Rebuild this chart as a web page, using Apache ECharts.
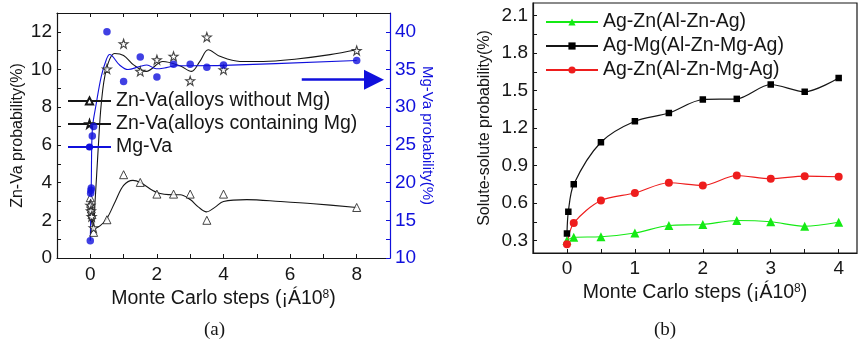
<!DOCTYPE html>
<html><head><meta charset="utf-8">
<script src="https://cdn.jsdelivr.net/npm/echarts@6/dist/echarts.min.js"></script>
<style>html,body{margin:0;padding:0;background:#fff}#c{width:861px;height:340px}</style>
</head><body><div id="c"></div>
<script>
// ---------- Chart (a) data ----------
const aXLabels = [0, 2, 4, 6, 8];
const aXTicks = [0, 1, 2, 3, 4, 5, 6, 7, 8];
const aYLabels = [0, 2, 4, 6, 8, 10, 12];
const aYTicks = [0, 1, 2, 3, 4, 5, 6, 7, 8, 9, 10, 11, 12];
const aY2Labels = [10, 15, 20, 25, 30, 35, 40];
const aY2Ticks = [10, 12.5, 15, 17.5, 20, 22.5, 25, 27.5, 30, 32.5, 35, 37.5, 40];
const aNames = ['Zn-Va(alloys without Mg)', 'Zn-Va(alloys containing Mg)', 'Mg-Va'];
// markers [steps, value]
const triPts = [[0,3.2],[0.01,2.9],[0.03,2.6],[0.05,2.3],[0.1,1.36],[0.5,2.03],[1,4.42],[1.5,4.01],[2,3.39],[2.5,3.39],[3,3.39],[3.5,2.0],[4,3.39],[8,2.68]];
const starPts = [[0,2.8],[0.02,2.5],[0.04,2.2],[0.1,1.6],[0.5,10.03],[1,11.37],[1.5,9.9],[2,10.52],[2.5,10.7],[3,9.4],[3.5,11.72],[4,9.99],[8,11.01]];
const mgPts = [[0,12.3],[0.01,18.6],[0.02,19.0],[0.03,19.3],[0.06,26.2],[0.1,27.45],[0.5,40.0],[1,33.4],[1.5,36.65],[2,34.0],[2.5,35.7],[3,35.7],[3.5,35.3],[4,35.6],[8,36.2]];
// fitted curves
const triFit = [[0,3.0],[0.06,2.0],[0.15,1.6],[0.3,1.72],[0.5,2.1],[0.75,3.0],[1.0,3.85],[1.28,4.12],[1.5,4.01],[2.0,3.48],[2.5,3.36],[2.7,3.36],[3.0,3.1],[3.25,2.7],[3.49,2.45],[3.75,2.7],[4.0,3.0],[4.7,3.1],[5.7,3.0],[6.7,2.88],[8.0,2.68]];
const starFit = [[0,2.3],[0.08,1.6],[0.15,3.2],[0.23,5.6],[0.33,8.2],[0.48,10.0],[0.73,10.85],[1.0,10.75],[1.3,10.25],[1.68,9.9],[2.18,10.43],[2.69,10.2],[3.04,9.9],[3.29,10.43],[3.54,11.05],[3.89,10.7],[4.49,10.43],[5.19,10.43],[6.2,10.56],[7.2,10.79],[8.0,11.05]];
const mgFit = [[0,12.3],[0.03,20.0],[0.06,27.0],[0.18,30.5],[0.33,34.1],[0.48,36.3],[0.58,37.0],[0.88,35.6],[1.13,35.0],[1.48,35.4],[1.7,35.6],[1.98,35.1],[2.28,35.25],[2.58,35.5],[3.0,35.5],[4.0,35.55],[8.0,36.2]];
const arrowLine = [[6.35, 33.65], [8.52, 33.65]];

// ---------- Chart (b) data ----------
const bXLabels = [0, 1, 2, 3, 4];
const bXTicks = [0, 0.5, 1, 1.5, 2, 2.5, 3, 3.5, 4];
const bYLabels = [0.3, 0.6, 0.9, 1.2, 1.5, 1.8, 2.1];
const bYTicks = [0.3, 0.45, 0.6, 0.75, 0.9, 1.05, 1.2, 1.35, 1.5, 1.65, 1.8, 1.95, 2.1];
const bNames = ['Ag-Zn(Al-Zn-Ag)', 'Ag-Mg(Al-Zn-Mg-Ag)', 'Ag-Zn(Al-Zn-Mg-Ag)'];
const agZnPts = [[0,0.30],[0.1,0.326],[0.5,0.33],[1,0.36],[1.5,0.42],[2,0.428],[2.5,0.46],[3,0.45],[3.5,0.414],[4,0.446]];
const agMgPts = [[0,0.356],[0.02,0.53],[0.1,0.75],[0.5,1.086],[1,1.254],[1.5,1.32],[2,1.428],[2.5,1.433],[3,1.548],[3.5,1.49],[4,1.6]];
const agZnMgPts = [[0,0.27],[0.1,0.44],[0.5,0.62],[1,0.68],[1.5,0.762],[2,0.74],[2.5,0.82],[3,0.794],[3.5,0.815],[4,0.81]];

// ---------- styles ----------
const FONT = 'Liberation Sans, Arial, sans-serif';
const INK = '#161616';
const BLUE = '#1010dc';
const GREEN = '#14ea14';
const RED = '#ee1d1d';
const STAR = 'path://M12,1 L14.8,9.2 L23.4,9.3 L16.5,14.4 L19,22.7 L12,17.7 L5,22.7 L7.5,14.4 L0.6,9.3 L9.2,9.2 Z';

const xName = '{a|Monte Carlo steps (¡Á10}{s|8}{a|)}';
const xNameStyle = {
  fontFamily: FONT, fontSize: 19.5, color: INK,
  rich: { a: { fontFamily: FONT, fontSize: 19.5, color: INK },
          s: { fontFamily: FONT, fontSize: 12, color: INK, verticalAlign: 'top', padding: [0, 0, 4, 0] } }
};
const axLine = c => ({ show: true, onZero: false, lineStyle: { color: c, width: 1.2 } });

const chart = echarts.init(document.getElementById('c'), null, { renderer: 'canvas' });
chart.setOption({
  animation: false,
  backgroundColor: '#fff',
  textStyle: { fontFamily: FONT },
  grid: [
    { left: 57, right: 471, top: 13, bottom: 82, containLabel: false },
    { left: 533, right: 4, top: 3, bottom: 87, containLabel: false, show: true, borderColor: INK, borderWidth: 1.2, backgroundColor: 'transparent' }
  ],
  xAxis: [
    { type: 'value', gridIndex: 0, min: -1, max: 9, position: 'bottom',
      axisLine: axLine(INK),
      axisTick: { inside: true, length: 4, customValues: aXTicks, lineStyle: { color: INK } },
      axisLabel: { customValues: aXLabels, fontSize: 19, color: INK, margin: 7, fontFamily: FONT },
      splitLine: { show: false },
      name: xName, nameLocation: 'middle', nameGap: 23, nameTextStyle: xNameStyle },
    { type: 'value', gridIndex: 0, min: -1, max: 9, position: 'top',
      axisLine: axLine(INK),
      axisTick: { inside: true, length: 4, customValues: aXTicks, lineStyle: { color: INK } },
      axisLabel: { show: false }, splitLine: { show: false } },
    { type: 'value', gridIndex: 1, min: -0.5, max: 4.27, position: 'bottom',
      axisLine: axLine(INK),
      axisTick: { inside: true, length: 4, customValues: bXTicks, lineStyle: { color: INK } },
      axisLabel: { customValues: bXLabels, fontSize: 19, color: INK, margin: 6, fontFamily: FONT },
      splitLine: { show: false },
      name: xName, nameLocation: 'middle', nameGap: 30, nameTextStyle: xNameStyle }
  ],
  yAxis: [
    { type: 'value', gridIndex: 0, min: 0, max: 13, position: 'left',
      axisLine: axLine(INK),
      axisTick: { inside: true, length: 4, customValues: aYTicks, lineStyle: { color: INK } },
      axisLabel: { customValues: aYLabels, fontSize: 19, color: INK, margin: 5, fontFamily: FONT },
      splitLine: { show: false },
      name: 'Zn-Va probability(%)', nameLocation: 'middle', nameGap: 31,
      nameTextStyle: { fontFamily: FONT, fontSize: 16, color: INK } },
    { type: 'value', gridIndex: 0, min: 10, max: 42.5, position: 'right',
      axisLine: axLine(BLUE),
      axisTick: { inside: true, length: 4, customValues: aY2Ticks, lineStyle: { color: BLUE } },
      axisLabel: { customValues: aY2Labels, fontSize: 19, color: BLUE, margin: 5, fontFamily: FONT },
      splitLine: { show: false },
      name: 'Mg-Va probability(%)', nameLocation: 'middle', nameGap: 28, nameRotate: -90,
      nameTextStyle: { fontFamily: FONT, fontSize: 15, color: BLUE } },
    { type: 'value', gridIndex: 1, min: 0.2, max: 2.2, position: 'left',
      axisLine: axLine(INK),
      axisTick: { inside: true, length: 4, customValues: bYTicks, lineStyle: { color: INK } },
      axisLabel: { customValues: bYLabels, fontSize: 19, color: INK, margin: 5, fontFamily: FONT,
                   formatter: v => v.toFixed(1) },
      splitLine: { show: false },
      name: 'Solute-solute probability(%)', nameLocation: 'middle', nameGap: 40,
      nameTextStyle: { fontFamily: FONT, fontSize: 16, color: INK } }
  ],
  legend: [
    { data: aNames, orient: 'vertical', left: 62, top: 86, itemWidth: 43, itemHeight: 9, itemGap: 3,
      align: 'left', textStyle: { fontFamily: FONT, fontSize: 19.5, color: INK }, selectedMode: false },
    { data: bNames, orient: 'vertical', left: 540, top: 7, itemWidth: 52, itemHeight: 9, itemGap: 4,
      align: 'left', textStyle: { fontFamily: FONT, fontSize: 19.5, color: INK }, selectedMode: false }
  ],
  graphic: [
    { type: 'text', left: 204, top: 321, style: { text: '(a)', font: '19px "Liberation Serif", "Times New Roman", serif', fill: INK } },
    { type: 'text', left: 654, top: 321, style: { text: '(b)', font: '19px "Liberation Serif", "Times New Roman", serif', fill: INK } }
  ],
  series: [
    // chart (a) fitted curves (legend entries)
    { name: aNames[0], type: 'line', xAxisIndex: 0, yAxisIndex: 0, data: triFit, smooth: 0.35,
      showSymbol: false, symbol: 'triangle', symbolSize: 8,
      lineStyle: { color: INK, width: 1.1 }, itemStyle: { color: '#fff', borderColor: INK, borderWidth: 1 } },
    { name: aNames[1], type: 'line', xAxisIndex: 0, yAxisIndex: 0, data: starFit, smooth: 0.35,
      showSymbol: false, symbol: STAR, symbolSize: 9,
      lineStyle: { color: INK, width: 1.1 }, itemStyle: { color: '#fff', borderColor: INK, borderWidth: 1 } },
    { name: aNames[2], type: 'line', xAxisIndex: 0, yAxisIndex: 1, data: mgFit, smooth: 0.35,
      showSymbol: false, symbol: 'circle', symbolSize: 8,
      lineStyle: { color: BLUE, width: 1.1 }, itemStyle: { color: BLUE } },
    // chart (a) markers
    { name: 'triPts', type: 'scatter', xAxisIndex: 0, yAxisIndex: 0, data: triPts, symbol: 'triangle', symbolSize: 8,
      itemStyle: { color: '#fff', borderColor: INK, borderWidth: 1 }, z: 5 },
    { name: 'starPts', type: 'scatter', xAxisIndex: 0, yAxisIndex: 0, data: starPts, symbol: STAR, symbolSize: 9,
      itemStyle: { color: '#fff', borderColor: INK, borderWidth: 1.1 }, z: 5 },
    { name: 'mgPts', type: 'scatter', xAxisIndex: 0, yAxisIndex: 1, data: mgPts, symbol: 'circle', symbolSize: 7.5,
      itemStyle: { color: BLUE }, z: 6,
      markLine: { silent: true, animation: false, symbol: ['none', 'triangle'], symbolSize: 20,
        lineStyle: { color: BLUE, width: 2.5, type: 'solid' }, label: { show: false },
        data: [[{ coord: arrowLine[0] }, { coord: arrowLine[1] }]] } },
    // chart (b)
    { name: bNames[0], type: 'line', xAxisIndex: 2, yAxisIndex: 2, data: agZnPts, smooth: 0.3,
      symbol: 'triangle', symbolSize: 9, lineStyle: { color: GREEN, width: 1.2 }, itemStyle: { color: GREEN } },
    { name: bNames[1], type: 'line', xAxisIndex: 2, yAxisIndex: 2, data: agMgPts, smooth: 0.3,
      symbol: 'rect', symbolSize: 6.5, lineStyle: { color: INK, width: 1.2 }, itemStyle: { color: '#000' } },
    { name: bNames[2], type: 'line', xAxisIndex: 2, yAxisIndex: 2, data: agZnMgPts, smooth: 0.3,
      symbol: 'circle', symbolSize: 8, lineStyle: { color: RED, width: 1.2 }, itemStyle: { color: RED } }
  ]
});
</script>
</body></html>
